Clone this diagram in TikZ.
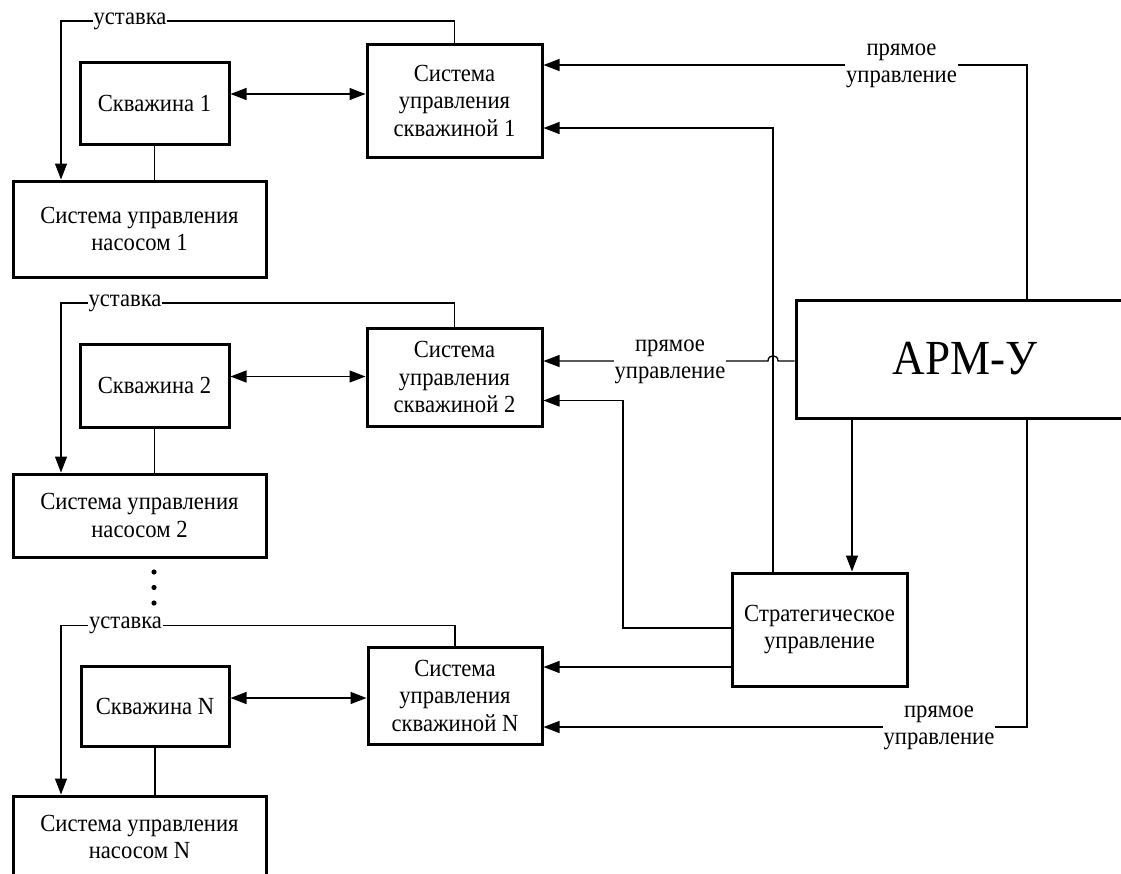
\documentclass[tikz,border=0pt]{standalone}
\usepackage{fontspec}
\setmainfont[FakeStretch=0.92]{Liberation Serif}
\usetikzlibrary{arrows.meta}
\newcommand\fs{\fontsize{24.6}{27.5}\selectfont}
\tikzset{
  box/.style={draw, line width=3pt, inner sep=0pt, align=center, font=\fs},
  conn/.style={line width=1.3pt},
  arr/.style={conn, -{Triangle[length=16pt,width=12pt]}},
  darr/.style={conn, {Triangle[length=16pt,width=12pt]}-{Triangle[length=16pt,width=12pt]}},
  lbl/.style={fill=white, inner sep=1pt, align=center, font=\fs}
}
\begin{document}
\begin{tikzpicture}[x=1pt,y=-1pt]
\useasboundingbox (0,0) rectangle (1121,873);

% group 1
\node[box, minimum width=149pt, minimum height=82pt] (w1) at (154.5,103) {Скважина 1};
\node[box, minimum width=253pt, minimum height=96pt] (p1) at (139.5,229) {Система управления\\насосом 1};
\node[box, minimum width=175pt, minimum height=113pt] (c1) at (454.5,100.5) {Система\\управления\\скважиной 1};

% group 2
\node[box, minimum width=149pt, minimum height=83pt] (w2) at (154.5,385.5) {Скважина 2};
\node[box, minimum width=253pt, minimum height=83pt] (p2) at (139.5,515.5) {Система управления\\насосом 2};
\node[box, minimum width=175pt, minimum height=98pt] (c2) at (454.5,377) {Система\\управления\\скважиной 2};

% group N
\node[box, minimum width=148pt, minimum height=80pt] (wn) at (155,706) {Скважина N};
\node[box, minimum width=253pt, minimum height=82pt] (pn) at (139.5,837) {Система управления\\насосом N};
\node[box, minimum width=174pt, minimum height=97pt] (cn) at (455,695.5) {Система\\управления\\скважиной N};

% right side
\node[box, minimum width=338pt, minimum height=118pt, font=\fontsize{49}{52}\selectfont] (apm) at (965,359) {АРМ-У};
\node[box, minimum width=175pt, minimum height=113pt] (st) at (819.5,629.5) {Стратегическое\\управление};

% dots
\fill (154,572) circle[radius=2.6pt];
\fill (154,587.5) circle[radius=2.6pt];
\fill (154,603) circle[radius=2.6pt];

% group 1 connectors
\draw[darr] (w1.east |- 0,94) -- (c1.west |- 0,94);
\draw[conn] (w1.south) -- (w1.south |- p1.north);
\draw[arr] (c1.north) |- (61,21) -- (61,0 |- p1.north);
\node[lbl] (u1) at (130,21) {уставка};

% group 2 connectors
\draw[darr] (w2.east |- 0,376.5) -- (c2.west |- 0,376.5);
\draw[conn] (w2.south) -- (w2.south |- p2.north);
\draw[arr] (c2.north) |- (61,303) -- (61,0 |- p2.north);
\node[lbl] (u2) at (125,303) {уставка};

% group N connectors
\draw[darr] (wn.east |- 0,698) -- (cn.west |- 0,698);
\draw[conn] (wn.south) -- (wn.south |- pn.north);
\draw[arr] (cn.north) |- (61,625.5) -- (61,0 |- pn.north);
\node[lbl] (un) at (125.5,625.5) {уставка};

% APM / strategic connectors
\draw[arr] (apm.north -| 1027,0) |- (c1.east |- 0,65);
\node[lbl] (d1) at (901.5,66) {прямое\\управление};

\draw[arr] (st.north -| 773,0) |- (c1.east |- 0,128);

\draw[arr] (apm.west |- 0,361) -- (778,361) .. controls (778,354) and (768,354) .. (768,361) -- (c2.east |- 0,361);
\node[lbl] (d2) at (670,362) {прямое\\управление};

\draw[arr] (st.west |- 0,628) -| (623,400.5) -- (c2.east |- 0,400.5);
\draw[arr] (st.west |- 0,667) -- (cn.east |- 0,667);
\draw[arr] (apm.south -| 852,0) -- (st.north -| 852,0);

\draw[arr] (apm.south -| 1027,0) |- (cn.east |- 0,727);
\node[lbl] (d3) at (939,728) {прямое\\управление};
\end{tikzpicture}
\end{document}
